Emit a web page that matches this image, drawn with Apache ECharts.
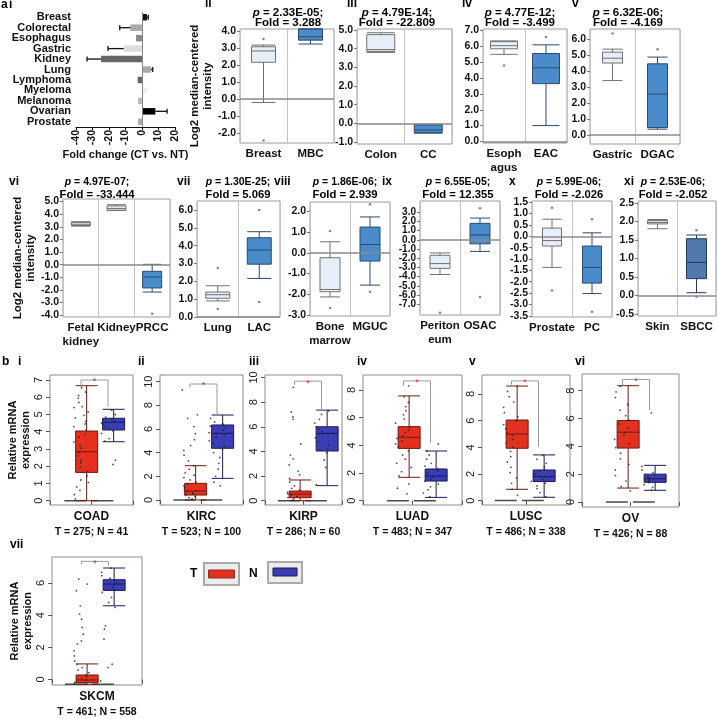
<!DOCTYPE html>
<html>
<head>
<meta charset="utf-8">
<script src="https://cdn.jsdelivr.net/npm/echarts@6/dist/echarts.min.js"></script>
<style>
html, body { margin: 0; padding: 0; background: #fff; }
#main { width: 718px; height: 719px; }
</style>
</head>
<body>
<div id="main"></div>
<script>
// ---- panel a-i : fold change per cancer type
var tissuesA = ['Breast', 'Colorectal', 'Esophagus', 'Gastric', 'Kidney', 'Lung', 'Lymphoma', 'Myeloma', 'Melanoma', 'Ovarian', 'Prostate'];
var foldA = [3.0, -7.1, -3.6, -11.1, -24.8, 5.5, -2.6, 3.0, -2.4, 8.1, -2.4];
var errA = [3.8, -13.5, null, -20.6, -33.3, 6.5, null, null, null, 15.2, null];
var ticksA = [-40, -30, -20, -10, 0, 10, 20];

// ---- Oncomine panels ii - xi : [min, Q1, median, Q3, max]
var catsII = ['Breast', 'MBC'];
var boxII = [[-0.2, 2.18, 2.85, 3.1, 3.2], [3.26, 3.49, 3.69, 4.15, 4.15]];
var outII = [[0, 3.56], [0, -2.45]];
var ticksII = [-2, -1, 0, 1, 2, 3, 4];

var catsIII = ['Colon', 'CC'];
var boxIII = [[3.8, 3.85, 3.95, 4.75, 4.85], [-0.52, -0.5, -0.35, -0.08, -0.05]];
var outIII = [];
var ticksIII = [-1, 0, 1, 2, 3, 4, 5];

var catsIV = ['Esoph\nagus', 'EAC'];
var boxIV = [[5.5, 5.85, 6.05, 6.3, 6.35], [1.0, 3.65, 4.65, 5.55, 6.1]];
var outIV = [[0, 4.8], [1, 6.6]];
var ticksIV = [0, 1, 2, 3, 4, 5, 6, 7];

var catsV = ['Gastric', 'DGAC'];
var boxV = [[3.4, 4.5, 4.8, 5.18, 5.37], [0.36, 0.46, 2.55, 4.45, 4.87]];
var outV = [[0, 6.35], [1, 5.36]];
var ticksV = [0, 1, 2, 3, 4, 5, 6];

var catsVI = ['Fetal\nkidney', 'Kidney', 'PRCC'];
var boxVI = [[3.05, 3.1, 3.2, 3.35, 3.4], [4.3, 4.3, 4.45, 4.65, 4.75], [-2.17, -1.85, -0.98, -0.53, 0.02]];
var outVI = [[2, -3.9]];
var ticksVI = [-4, -3, -2, -1, 0, 1, 2, 3, 4, 5];

var catsVII = ['Lung', 'LAC'];
var boxVII = [[0.9, 1.05, 1.25, 1.4, 1.75], [2.16, 2.96, 3.75, 4.44, 4.78]];
var outVII = [[0, 2.75], [0, 0.45], [1, 6.0], [1, 0.84]];
var ticksVII = [0, 1, 2, 3, 4, 5, 6];

var catsVIII = ['Bone\nmarrow', 'MGUC'];
var boxVIII = [[-2.13, -1.88, -1.77, -0.24, 0.53], [-1.56, -0.4, 0.4, 1.24, 1.73]];
var outVIII = [[0, 1.05], [0, -2.66], [1, 2.34], [1, -1.88]];
var ticksVIII = [-3, -2, -1, 0, 1, 2];

var catsIX = ['Periton\neum', 'OSAC'];
var boxIX = [[-3.76, -3.1, -2.58, -1.68, -1.43], [-1.26, -0.44, 0.53, 1.78, 2.35]];
var outIX = [[0, -7.9], [1, 3.42], [1, -6.2]];
var ticksIX = [-8, -7, -6, -5, -4, -3, -2, -1, 0, 1, 2, 3, 4];

var catsX = ['Prostate', 'PC'];
var boxX = [[-1.37, -0.43, -0.19, 0.36, 0.75], [-2.52, -2.06, -1.37, -0.43, 0.15]];
var outX = [[0, 1.25], [0, -2.38], [1, 0.75], [1, -3.32]];
var ticksX = [-3.5, -3, -2.5, -2, -1.5, -1, -0.5, 0, 0.5, 1, 1.5];

var catsXI = ['Skin', 'SBCC'];
var boxXI = [[1.8, 1.93, 1.97, 2.02, 2.05], [0.07, 0.45, 0.89, 1.53, 1.63]];
var outXI = [[1, 1.76], [1, -0.04]];
var ticksXI = [-0.5, 0, 0.5, 1, 1.5, 2, 2.5];

// ---- GEPIA panels b i - vii : boxes [T, N], points, significance bracket [top, left end, right end]
var boxCOAD = [[0, 1.64, 2.84, 4.04, 6.67], [3.42, 4.1, 4.55, 4.78, 5.3]];
var ptsCOAD_T = [6.55, 6.3, 6.1, 5.95, 5.7, 5.45, 5.4, 5.15, 4.95, 4.8, 4.6, 4.45, 4.3, 4.1, 3.85, 3.7, 3.4, 3.2, 3.05, 2.8, 2.6, 2.35, 2.2, 1.95, 1.7, 1.45, 1.2, 1.05, 0.8, 0.6, 0.35, 0.1];
var ptsCOAD_N = [5.25, 5.0, 4.85, 4.7, 4.6, 4.5, 4.45, 4.3, 4.2, 4.05, 3.9, 3.6, 3.45, 2.35, 2.1];
var sigCOAD = [7.0, 6.7, 5.45];

var boxKIRC = [[0, 0.42, 0.76, 1.41, 2.9], [1.83, 4.37, 5.63, 6.34, 7.18]];
var ptsKIRC_T = [9.3, 7.2, 6.9, 6.2, 5.6, 5.1, 4.6, 4.2, 3.8, 3.3, 2.9, 2.6, 2.3, 2.1, 1.9, 1.7, 1.5, 1.35, 1.2, 1.05, 0.9, 0.8, 0.7, 0.6, 0.5, 0.4, 0.3, 0.2, 0.1];
var ptsKIRC_N = [6.9, 6.6, 6.4, 6.25, 6.1, 5.9, 5.7, 5.5, 5.3, 5.0, 4.8, 4.5, 4.3, 4.0, 3.6, 3.1, 2.6, 2.0, 1.5, 1.2];
var sigKIRC = [9.8, 9.5, 7.2];

var boxKIRP = [[0, 0.24, 0.54, 0.78, 1.68], [1.22, 4.03, 5.46, 6.0, 7.35]];
var ptsKIRP_T = [9.2, 7.2, 6.8, 6.6, 4.6, 3.7, 3.4, 2.9, 2.4, 2.1, 1.8, 1.5, 1.2, 1.0, 0.85, 0.7, 0.55, 0.45, 0.35, 0.25, 0.15, 0.05];
var ptsKIRP_N = [7.3, 7.0, 6.6, 6.3, 6.0, 5.8, 5.6, 5.4, 5.1, 4.8, 4.5, 4.2, 3.9, 3.3, 2.7, 1.3];
var sigKIRP = [9.7, 9.4, 7.4];

var boxLUAD = [[1.69, 3.78, 4.58, 5.35, 7.57], [0.24, 1.42, 1.78, 2.29, 3.59]];
var ptsLUAD_T = [8.3, 7.5, 7.1, 6.8, 6.5, 6.2, 5.9, 5.6, 5.3, 5.1, 4.9, 4.7, 4.5, 4.3, 4.1, 3.9, 3.6, 3.3, 3.0, 2.7, 2.4, 2.1, 1.8, 1.2, 0.9, 0.5];
var ptsLUAD_N = [4.1, 3.6, 3.3, 3.0, 2.7, 2.5, 2.3, 2.15, 2.0, 1.85, 1.7, 1.55, 1.4, 1.2, 1.0, 0.8, 0.55, 0.3];
var sigLUAD = [8.65, 8.3, 4.2];

var boxLUSC = [[0.85, 3.93, 5.0, 6.05, 8.6], [0.25, 1.43, 1.8, 2.3, 3.43]];
var ptsLUSC_T = [8.6, 8.2, 7.8, 7.4, 7.0, 6.6, 6.3, 6.0, 5.7, 5.4, 5.1, 4.9, 4.6, 4.3, 4.0, 3.7, 3.3, 2.9, 2.5, 2.1, 1.7, 1.3, 0.85, 0.4];
var ptsLUSC_N = [3.4, 3.1, 2.8, 2.55, 2.35, 2.2, 2.05, 1.9, 1.75, 1.6, 1.45, 1.3, 1.1, 0.9, 0.6, 0.3];
var sigLUSC = [8.98, 8.7, 4.05];

var boxOV = [[1.0, 3.87, 5.01, 5.85, 8.35], [0.84, 1.41, 1.67, 2.0, 2.63]];
var ptsOV_T = [8.3, 7.9, 7.5, 7.0, 6.6, 6.2, 5.9, 5.6, 5.3, 5.0, 4.8, 4.5, 4.2, 3.9, 3.5, 3.1, 2.7, 2.3, 1.9, 1.5, 1.1, 0.8];
var ptsOV_N = [6.4, 2.55, 2.3, 2.1, 1.95, 1.8, 1.7, 1.6, 1.5, 1.4, 1.25, 1.05, 0.85];
var sigOV = [8.8, 8.4, 6.6];

var boxSKCM = [[0, 0.1, 0.26, 0.56, 1.22], [4.7, 5.62, 6.0, 6.26, 6.96]];
var ptsSKCM_T = [6.3, 6.0, 5.6, 4.7, 4.2, 3.9, 3.4, 3.0, 2.6, 2.4, 2.0, 1.7, 1.4, 1.2, 1.0, 0.85, 0.7, 0.55, 0.45, 0.35, 0.25, 0.15, 0.08, 0.03];
var ptsSKCM_N = [6.95, 6.7, 6.5, 6.35, 6.2, 6.05, 5.95, 5.8, 5.65, 5.5, 5.2, 4.9, 4.6, 3.5, 3.3, 2.7, 1.2, 1.0, 0.2];
var sigSKCM = [7.36, 7.2, 7.1];

var ticksB7 = [0, 1, 2, 3, 4, 5, 6, 7];
var ticksB10 = [0, 2, 4, 6, 8, 10];
var ticksB8 = [0, 2, 4, 6, 8];
var ticksB6 = [0, 2, 4, 6];

// ------------------------------------------------------------------
var FONT = '"Liberation Sans", Arial, sans-serif';
var grids = [], xAxes = [], yAxes = [], series = [], graphics = [];

function text(x, y, str, size, align) {
    graphics.push({
        type: 'text', x: x, y: y, silent: true,
        style: {
            text: str, fontFamily: FONT, fontSize: size || 11.5, fontWeight: 'bold', fill: '#000',
            align: align || 'left', verticalAlign: 'middle', textAlign: align || 'left', textVerticalAlign: 'middle'
        }
    });
}

// p value line (italic p) and fold line, centred over a panel
function stat(cx, y1, y2, p, fold, fp, ff) {
    graphics.push({
        type: 'text', x: cx, y: y1, silent: true,
        style: {
            text: '{i|p} = ' + p + ';', fontFamily: FONT, fontSize: fp, fontWeight: 'bold', fill: '#000',
            align: 'center', verticalAlign: 'middle', textAlign: 'center', textVerticalAlign: 'middle',
            rich: { i: { fontFamily: FONT, fontSize: fp, fontWeight: 'bold', fontStyle: 'italic', fill: '#000' } }
        }
    });
    text(cx, y2, 'Fold = ' + fold, ff, 'center');
}

var lightBox = { color: '#e6eff8', borderColor: '#707070', borderWidth: 1 };
var blueBox = { color: '#4a8bcb', borderColor: '#2c4a6e', borderWidth: 1 };

function onco(o) {
    var g = grids.length;
    grids.push({ left: o.x, top: o.y, width: o.w, height: o.h, show: true, borderColor: '#9a9a9a', borderWidth: 1 });
    xAxes.push({
        gridIndex: g, type: 'category', data: o.cats,
        axisLine: { show: false }, axisTick: { show: false },
        splitLine: { show: true, interval: 0, lineStyle: { color: '#c4c4c4', width: 1 } },
        axisLabel: { interval: 0, margin: 4, color: '#111', fontFamily: FONT, fontWeight: 'bold', fontSize: 11.5, lineHeight: 14 }
    });
    yAxes.push({
        gridIndex: g, type: 'value', min: o.min, max: o.max,
        splitLine: { show: false }, axisLine: { show: false },
        axisTick: { show: true, length: 3, customValues: o.ticks, lineStyle: { color: '#777' } },
        axisLabel: {
            customValues: o.ticks, margin: 4, color: '#111', fontFamily: FONT, fontWeight: 'bold', fontSize: o.fs || 10.5,
            formatter: function (v) { return v.toFixed(1); }
        },
        name: o.yName || '', nameLocation: 'middle', nameGap: o.nameGap || 0,
        nameTextStyle: { fontFamily: FONT, fontWeight: 'bold', fontSize: 11.5, color: '#111', lineHeight: 13 }
    });
    series.push({
        type: 'line', xAxisIndex: g, yAxisIndex: g, data: [], z: 1, silent: true,
        markLine: { silent: true, symbol: 'none', label: { show: false }, data: [{ yAxis: 0 }], lineStyle: { color: '#8a8a8a', width: 1.5, type: 'solid' } }
    });
    series.push({
        type: 'boxplot', xAxisIndex: g, yAxisIndex: g, z: 3, silent: true,
        boxWidth: [o.bw, o.bw],
        data: o.box.map(function (b, i) {
            var st = i === o.box.length - 1 ? (o.dark || blueBox) : lightBox;
            return { value: b, itemStyle: st };
        })
    });
    series.push({
        type: 'scatter', xAxisIndex: g, yAxisIndex: g, z: 4, silent: true,
        data: o.out, symbolSize: 2.5, itemStyle: { color: '#666' }
    });
}

var redBox = { color: '#e3301f', borderColor: '#6e1a12', borderWidth: 1 };
var navyBox = { color: '#3b3db5', borderColor: '#1a1a55', borderWidth: 1 };

function gepia(o) {
    var g = grids.length;
    grids.push({ left: o.x, top: o.y, width: o.w, height: o.h, show: true, borderColor: '#8c8c8c', borderWidth: 1 });
    xAxes.push({
        gridIndex: g, type: 'category', data: ['', ''],
        axisLine: { show: false }, axisLabel: { show: false },
        axisTick: { show: true, length: 4, interval: 0, lineStyle: { color: '#555' } },
        name: '{a|' + o.name + '}\n{b|' + o.sizes + '}', nameLocation: 'middle', nameGap: o.nameGap || 3,
        nameTextStyle: {
            rich: {
                a: { fontFamily: FONT, fontWeight: 'bold', fontSize: 12, color: '#111', lineHeight: 17 },
                b: { fontFamily: FONT, fontWeight: 'bold', fontSize: 10.5, color: '#111', lineHeight: 15 }
            }
        }
    });
    yAxes.push({
        gridIndex: g, type: 'value', min: o.min, max: o.max,
        axisLine: { show: false }, splitLine: { show: false },
        axisTick: { show: true, length: 4, customValues: o.ticks, lineStyle: { color: '#555' } },
        axisLabel: { customValues: o.ticks, rotate: 90, margin: 6, color: '#222', fontFamily: FONT, fontSize: 11 },
        name: o.yName || '', nameLocation: 'middle', nameGap: o.yGap || 0,
        nameTextStyle: { fontFamily: FONT, fontWeight: 'bold', fontSize: 11, color: '#111', lineHeight: 13 }
    });
    // inner grid that places the two boxes where the reference has them
    var h = grids.length;
    grids.push({ left: o.cx - 13.5, top: o.y, width: 54, height: o.h, show: false });
    xAxes.push({ gridIndex: h, type: 'category', data: ['T', 'N'], show: false, jitter: 16, jitterOverlap: true });
    yAxes.push({ gridIndex: h, type: 'value', min: o.min, max: o.max, show: false });
    series.push({
        type: 'boxplot', xAxisIndex: h, yAxisIndex: h, z: 2, silent: true, boxWidth: [22, 22],
        data: [[0, 0, 0, 0, 0], [0, 0, 0, 0, 0]],
        itemStyle: { color: 'none', borderColor: '#4a4a4a', borderWidth: 1.5 }
    });
    series.push({
        type: 'boxplot', xAxisIndex: h, yAxisIndex: h, z: 3, silent: true, boxWidth: [22, 22],
        data: [{ value: o.box[0], itemStyle: redBox }, { value: o.box[1], itemStyle: navyBox }]
    });
    var pts = o.ptsT.map(function (v) { return [0, v]; }).concat(o.ptsN.map(function (v) { return [1, v]; }));
    series.push({
        type: 'scatter', xAxisIndex: h, yAxisIndex: h, z: 4, silent: true,
        data: pts, symbolSize: 1.8, itemStyle: { color: '#222', opacity: 0.8 }
    });
    series.push({
        type: 'custom', xAxisIndex: h, yAxisIndex: h, z: 5, silent: true,
        data: [[0, o.sig[0], o.sig[1], o.sig[2]]],
        encode: { x: 0, y: [1, 2, 3] },
        renderItem: function (params, api) {
            var top = api.value(1), le = api.value(2), re = api.value(3);
            var a = api.coord([0, le]), b = api.coord([0, top]), c = api.coord([1, top]), d = api.coord([1, re]);
            return {
                type: 'group', children: [
                    { type: 'polyline', shape: { points: [a, b, c, d] }, style: { stroke: '#9a9a9a', fill: null, lineWidth: 1 } },
                    { type: 'text', x: (b[0] + c[0]) / 2, y: b[1] + 2, style: { text: '*', fill: '#e02020', fontSize: 9, fontFamily: FONT, align: 'center', verticalAlign: 'middle' } }
                ]
            };
        }
    });
}

// ---- panel a-i
grids.push({ left: 76, top: 12, width: 99, height: 115 });
xAxes.push({
    gridIndex: 0, type: 'value', min: -40, max: 20, interval: 10,
    axisLine: { show: true, lineStyle: { color: '#111', width: 1 } },
    axisTick: { show: true, length: 3, lineStyle: { color: '#111' } },
    splitLine: { show: false },
    axisLabel: { rotate: 90, margin: 3, color: '#111', fontFamily: FONT, fontWeight: 'bold', fontSize: 10.5 },
    name: 'Fold change (CT vs. NT)', nameLocation: 'middle', nameGap: 22,
    nameTextStyle: { fontFamily: FONT, fontWeight: 'bold', fontSize: 11, color: '#111' }
});
yAxes.push({
    gridIndex: 0, type: 'category', data: tissuesA, inverse: true,
    axisLine: { show: false }, axisTick: { show: false },
    axisLabel: { interval: 0, margin: 5, color: '#111', fontFamily: FONT, fontWeight: 'bold', fontSize: 11 }
});
var shadeA = ['#111', '#aaa', '#888', '#ddd', '#666', '#aaa', '#666', '#eee', '#bbb', '#000', '#aaa'];
series.push({
    type: 'bar', xAxisIndex: 0, yAxisIndex: 0, barWidth: 6.5, silent: true,
    data: foldA.map(function (v, i) { return { value: v, itemStyle: { color: shadeA[i] } }; }),
    markLine: { silent: true, symbol: 'none', label: { show: false }, data: [{ xAxis: 0 }], lineStyle: { color: '#888', width: 1, type: 'solid' } }
});
series.push({
    type: 'custom', xAxisIndex: 0, yAxisIndex: 0, silent: true, z: 4,
    data: errA.map(function (e, i) { return e === null ? null : [foldA[i], i, e]; }).filter(function (d) { return d; }),
    encode: { x: [0, 2], y: 1 },
    renderItem: function (params, api) {
        var p1 = api.coord([api.value(0), api.value(1)]);
        var p2 = api.coord([api.value(2), api.value(1)]);
        return {
            type: 'group', children: [
                { type: 'line', shape: { x1: p1[0], y1: p1[1], x2: p2[0], y2: p2[1] }, style: { stroke: '#111', lineWidth: 1.3 } },
                { type: 'line', shape: { x1: p2[0], y1: p2[1] - 2.5, x2: p2[0], y2: p2[1] + 2.5 }, style: { stroke: '#111', lineWidth: 1.3 } }
            ]
        };
    }
});

// ---- Oncomine panels
onco({ x: 240, y: 29, w: 94, h: 114, cats: catsII, box: boxII, out: outII, min: -2.6, max: 4.15, ticks: ticksII, bw: 24, yName: 'Log2 median-centered\nintensity', nameGap: 18 });
onco({ x: 357, y: 29, w: 95, h: 115, cats: catsIII, box: boxIII, out: outIII, min: -1.1, max: 5.05, ticks: ticksIII, bw: 28 });
onco({ x: 483, y: 29, w: 84, h: 114, cats: catsIV, box: boxIV, out: outIV, min: -0.1, max: 7.1, ticks: ticksIV, bw: 27 });
onco({ x: 590, y: 29, w: 90, h: 115, cats: catsV, box: boxV, out: outV, min: -0.57, max: 6.63, ticks: ticksV, bw: 20 });
onco({ x: 63, y: 199, w: 107, h: 118, cats: catsVI, box: boxVI, out: outVI, min: -4.15, max: 5.2, ticks: ticksVI, bw: 19, yName: 'Log2 median-centered\nintensity', nameGap: 25 });
onco({ x: 197, y: 201, w: 83, h: 116, cats: catsVII, box: boxVII, out: outVII, min: 0, max: 6.5, ticks: ticksVII, bw: 24 });
onco({ x: 310, y: 202, w: 80, h: 114, cats: catsVIII, box: boxVIII, out: outVIII, min: -3.05, max: 2.45, ticks: ticksVIII, bw: 20 });
onco({ x: 420, y: 201, w: 80, h: 114, cats: catsIX, box: boxIX, out: outIX, min: -8.15, max: 4.2, ticks: ticksIX, bw: 20, fs: 10 });
onco({ x: 532, y: 201, w: 80, h: 116, cats: catsX, box: boxX, out: outX, min: -3.55, max: 1.55, ticks: ticksX, bw: 19 });
onco({ x: 638, y: 201, w: 78, h: 115, cats: catsXI, box: boxXI, out: outXI, min: -0.56, max: 2.55, ticks: ticksXI, bw: 20,
    dark: { color: '#5079ad', borderColor: '#243a5a', borderWidth: 1 } });

// ---- GEPIA panels
gepia({ x: 50, y: 375, w: 83, h: 130, cx: 81, min: -0.25, max: 7.29, ticks: ticksB7, box: boxCOAD, ptsT: ptsCOAD_T, ptsN: ptsCOAD_N, sig: sigCOAD, name: 'COAD', sizes: 'T = 275; N = 41', yName: 'Relative mRNA\nexpression', yGap: 18 });
gepia({ x: 160, y: 375, w: 83, h: 130, cx: 190, min: -0.42, max: 10.56, ticks: ticksB10, box: boxKIRC, ptsT: ptsKIRC_T, ptsN: ptsKIRC_N, sig: sigKIRC, name: 'KIRC', sizes: 'T = 523; N = 100' });
gepia({ x: 265, y: 375, w: 77, h: 130, cx: 294.5, min: -0.35, max: 10.2, ticks: ticksB10, box: boxKIRP, ptsT: ptsKIRP_T, ptsN: ptsKIRP_N, sig: sigKIRP, name: 'KIRP', sizes: 'T = 286; N = 60' });
gepia({ x: 363, y: 375, w: 99, h: 130, cx: 403.5, min: -0.31, max: 9.08, ticks: ticksB8, box: boxLUAD, ptsT: ptsLUAD_T, ptsN: ptsLUAD_N, sig: sigLUAD, name: 'LUAD', sizes: 'T = 483; N = 347' });
gepia({ x: 482, y: 375, w: 88, h: 130, cx: 511.5, min: -0.33, max: 9.43, ticks: ticksB8, box: boxLUSC, ptsT: ptsLUSC_T, ptsN: ptsLUSC_N, sig: sigLUSC, name: 'LUSC', sizes: 'T = 486; N = 338' });
gepia({ x: 582, y: 374, w: 97, h: 133, cx: 622.5, min: -0.36, max: 9.19, ticks: ticksB8, box: boxOV, ptsT: ptsOV_T, ptsN: ptsOV_N, sig: sigOV, name: 'OV', sizes: 'T = 426; N = 88' });
gepia({ x: 52, y: 557, w: 90, h: 133, cx: 81.5, min: -0.34, max: 7.62, ticks: ticksB6, box: boxSKCM, ptsT: ptsSKCM_T, ptsN: ptsSKCM_N, sig: sigSKCM, name: 'SKCM', sizes: 'T = 461; N = 558', yName: 'Relative mRNA\nexpression', yGap: 15 });

// ---- panel labels and statistics
text(1, 5, 'a', 12);
text(9, 5, 'i', 12);
text(205, 4, 'ii', 12);
stat(288, 13, 23, '2.33E-05', '3.288', 11.5, 11.5);
text(347, 4, 'iii', 12);
stat(397, 13, 23, '4.79E-14', '-22.809', 11.5, 11.5);
text(462, 4, 'iv', 12);
stat(520, 13, 23, '4.77E-12', '-3.499', 11.5, 11.5);
text(572, 4, 'v', 12);
stat(628, 13, 23, '6.32E-06', '-4.169', 11.5, 11.5);
text(9, 182, 'vi', 12);
stat(97, 182, 195, '4.97E-07', '-33.444', 10.5, 11.3);
text(177, 182, 'vii', 12);
stat(238, 182, 195, '1.30E-25', '5.069', 10.5, 11.3);
text(274, 182, 'viii', 12);
stat(345, 182, 195, '1.86E-06', '2.939', 10.5, 11.3);
text(382, 182, 'ix', 12);
stat(458, 182, 195, '6.55E-05', '12.355', 10.5, 11.3);
text(509, 182, 'x', 12);
stat(569, 182, 195, '5.99E-06', '-2.026', 10.5, 11.3);
text(624, 182, 'xi', 12);
stat(673, 182, 195, '2.53E-06', '-2.052', 10.5, 11.3);

text(2, 362, 'b', 12);
text(18, 362, 'i', 12);
text(138, 362, 'ii', 12);
text(249, 362, 'iii', 12);
text(357, 362, 'iv', 12);
text(469, 362, 'v', 12);
text(575, 362, 'vi', 12);
text(10, 545, 'vii', 12);

// legend for T / N
text(190, 574, 'T', 12);
graphics.push({ type: 'rect', silent: true, shape: { x: 204, y: 563, width: 35, height: 22 }, style: { fill: '#ececec', stroke: '#aaaaaa', lineWidth: 2 } });
graphics.push({ type: 'rect', silent: true, shape: { x: 208.5, y: 570, width: 26, height: 8 }, style: { fill: '#e3301f', stroke: '#8a2a1e', lineWidth: 1 } });
text(249, 574, 'N', 12);
graphics.push({ type: 'rect', silent: true, shape: { x: 268, y: 562, width: 34, height: 21 }, style: { fill: '#ececec', stroke: '#aaaaaa', lineWidth: 2 } });
graphics.push({ type: 'rect', silent: true, shape: { x: 273, y: 568, width: 24, height: 8 }, style: { fill: '#3b3db5', stroke: '#1a1a55', lineWidth: 1 } });

var chart = echarts.init(document.getElementById('main'));
chart.setOption({
    backgroundColor: '#fff',
    animation: false,
    grid: grids,
    xAxis: xAxes,
    yAxis: yAxes,
    series: series,
    graphic: graphics
});
</script>
</body>
</html>
